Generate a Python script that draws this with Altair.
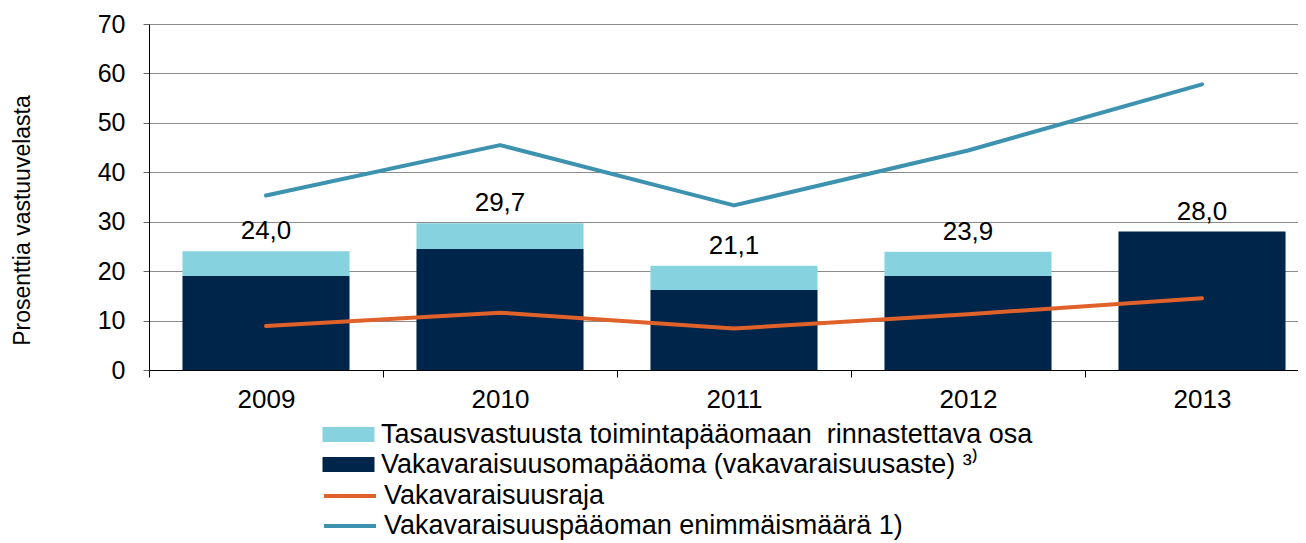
import altair as alt
import pandas as pd

years = ["2009", "2010", "2011", "2012", "2013"]
own_funds = [19.0, 24.5, 16.2, 19.0, 28.0]          # dark bars
totals = [24.0, 29.7, 21.1, 23.9, 28.0]             # labelled totals
solvency_limit = [8.9, 11.6, 8.4, 11.3, 14.5]       # orange line
solvency_max = [35.3, 45.5, 33.3, 44.4, 57.8]       # blue line

bar_names = [
    "Tasausvastuusta toimintapääomaan\u00a0 rinnastettava osa",
    "Vakavaraisuusomapääoma (vakavaraisuusaste) ³⁾",
]
line_names = ["Vakavaraisuusraja", "Vakavaraisuuspääoman enimmäismäärä 1)"]
y_title = "Prosenttia vastuuvelasta"

LIGHT = "#86D2DF"
DARK = "#00254A"
ORANGE = "#E0622A"
BLUE = "#3C92AF"
FONT = "Liberation Sans"

bar_rows = []
for yr, own, tot in zip(years, own_funds, totals):
    bar_rows.append({"year": yr, "series": bar_names[1], "value": own, "ord": 0})
    bar_rows.append({"year": yr, "series": bar_names[0], "value": round(tot - own, 1), "ord": 1})
bar_df = pd.DataFrame(bar_rows)

label_df = pd.DataFrame({
    "year": years,
    "total": totals,
    "label": [f"{t:.1f}".replace(".", ",") for t in totals],
})

line_rows = []
for yr, a, b in zip(years, solvency_limit, solvency_max):
    line_rows.append({"year": yr, "series": line_names[0], "value": a})
    line_rows.append({"year": yr, "series": line_names[1], "value": b})
line_df = pd.DataFrame(line_rows)

x_scale = alt.Scale(domain=years, range=[0, 1170], paddingInner=0, paddingOuter=0)
y_scale = alt.Scale(domain=[0, 70])

x_axis = alt.Axis(
    title=None, labelAngle=0, tickBand="extent", domainColor="black", tickColor="black",
    tickSize=7, labelFontSize=26, labelPadding=9, grid=False, labelColor="black",
)
y_axis = alt.Axis(
    title=y_title, values=[0, 10, 20, 30, 40, 50, 60, 70], tickSize=6, labelPadding=18,
    labelFontSize=25, labelColor="black", grid=True, gridColor="#8c8c8c", gridWidth=1.2,
    domainColor="black", tickColor="#666666", titleFontSize=23, titleFontWeight="normal",
    titleColor="black", titleX=-127, titleY=196, titleBaseline="middle", titleAlign="center",
)

x_enc = alt.X("year:N", scale=x_scale, axis=x_axis)

common_legend = dict(
    orient="none", legendX=186, title=None, labelFontSize=27, labelLimit=1200,
    symbolSize=676, labelOffset=19, rowPadding=2, padding=0, direction="vertical",
    labelColor="black",
)

bars = alt.Chart(bar_df).mark_bar(width=alt.RelativeBandSize(0.714)).encode(
    x=x_enc,
    y=alt.Y("value:Q", stack="zero", scale=y_scale, axis=y_axis),
    fill=alt.Fill(
        "series:N",
        scale=alt.Scale(domain=bar_names, range=[LIGHT, DARK]),
        legend=alt.Legend(
            legendY=397, symbolType="M-2,-0.58L2,-0.58L2,0.58L-2,0.58Z",
            symbolStrokeWidth=0, symbolOpacity=1, **common_legend,
        ),
    ),
    order=alt.Order("ord:Q"),
)

labels = alt.Chart(label_df).mark_text(
    dy=-12, baseline="alphabetic", fontSize=26, color="black", font=FONT
).encode(
    x=x_enc,
    y=alt.Y("total:Q", scale=y_scale, axis=y_axis),
    text="label:N",
)

lines = alt.Chart(line_df).mark_line(strokeWidth=4, strokeCap="round", strokeJoin="round").encode(
    x=x_enc,
    y=alt.Y("value:Q", scale=y_scale, axis=y_axis),
    stroke=alt.Stroke(
        "series:N",
        scale=alt.Scale(domain=line_names, range=[ORANGE, BLUE]),
        legend=alt.Legend(
            legendY=457, symbolType="M-2,0L2,0", symbolStrokeWidth=4, **common_legend,
        ),
    ),
)

chart = alt.layer(bars, lines, labels).properties(
    width=1149,
    height=346,
    autosize=alt.AutoSizeParams(type="none"),
    padding={"left": 141, "top": 16, "right": 0, "bottom": 171},
).configure(font=FONT).configure_view(stroke=None)

chart.save("out.html", embed_options={"renderer": "svg", "actions": False})
